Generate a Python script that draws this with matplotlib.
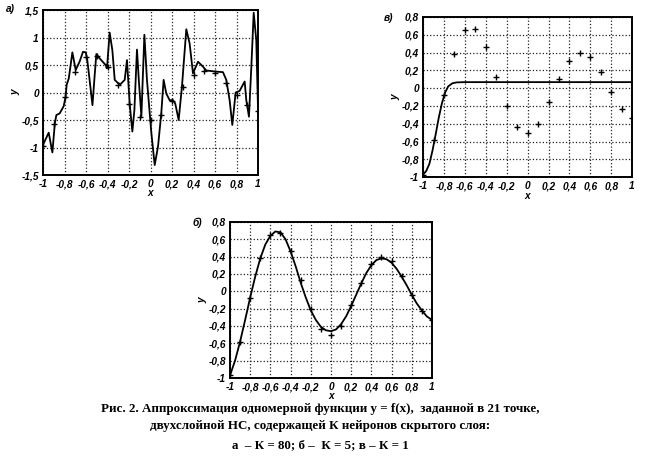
import matplotlib.pyplot as plt
import numpy as np

# 21 training points
x_pts = [-1.0, -0.9, -0.8, -0.7, -0.6, -0.5, -0.4, -0.3, -0.2, -0.1, 0.0,
         0.1, 0.2, 0.3, 0.4, 0.5, 0.6, 0.7, 0.8, 0.9, 1.0]
y_pts = [-0.97, -0.58, -0.08, 0.38, 0.65, 0.67, 0.46, 0.13, -0.20, -0.44, -0.50,
         -0.40, -0.16, 0.10, 0.31, 0.40, 0.35, 0.18, -0.04, -0.23, -0.33]

# a) K = 80 (read from picture)
xa = [-1.0, -0.947, -0.913, -0.89, -0.876, -0.845, -0.808, -0.79, -0.78, -0.76,
      -0.727, -0.696, -0.66, -0.628, -0.603, -0.59, -0.565, -0.54, -0.52, -0.504,
      -0.473, -0.417, -0.405, -0.38, -0.355, -0.333, -0.302, -0.28, -0.24, -0.219,
      -0.194, -0.169, -0.15, -0.126, -0.107, -0.085, -0.057, -0.033, 0.008, 0.039,
      0.07, 0.1, 0.122, 0.147, 0.178, 0.209, 0.23, 0.262, 0.293, 0.333,
      0.364, 0.395, 0.442, 0.488, 0.519, 0.612, 0.674, 0.705, 0.736, 0.761,
      0.792, 0.829, 0.876, 0.891, 0.916, 0.938, 0.96, 0.984, 1.0]
ya = [-0.95, -0.73, -1.09, -0.56, -0.41, -0.38, -0.25, -0.08, 0.14, 0.26,
      0.73, 0.41, 0.56, 0.74, 0.73, 0.62, 0.20, -0.23, 0.30, 0.70,
      0.62, 0.50, 0.44, 1.09, 0.77, 0.23, 0.17, 0.15, 0.23, 0.59,
      -0.20, -0.71, -0.32, 0.78, 0.17, -0.43, 1.05, 0.23, -0.74, -1.32,
      -0.98, -0.38, 0.23, -0.02, -0.14, -0.14, -0.20, -0.50, 0.12, 1.15,
      0.89, 0.35, 0.56, 0.47, 0.40, 0.38, 0.37, 0.23, -0.14, -0.59,
      0.0, 0.03, 0.20, -0.14, -0.44, 0.47, 1.45, 0.95, -0.29]

# б) K = 5
xb = [-1.00, -0.95, -0.90, -0.85, -0.80, -0.75, -0.70, -0.65, -0.60, -0.55,
      -0.50, -0.45, -0.40, -0.35, -0.30, -0.25, -0.20, -0.15, -0.10, -0.05,
      0.00, 0.05, 0.10, 0.15, 0.20, 0.25, 0.30, 0.35, 0.40, 0.45,
      0.50, 0.55, 0.60, 0.65, 0.70, 0.75, 0.80, 0.85, 0.90, 0.95, 1.00]
yb = [-0.97, -0.80, -0.58, -0.33, -0.07, 0.17, 0.38, 0.54, 0.64, 0.69,
      0.68, 0.60, 0.46, 0.29, 0.10, -0.07, -0.22, -0.33, -0.41, -0.45,
      -0.46, -0.44, -0.38, -0.29, -0.17, -0.04, 0.09, 0.21, 0.30, 0.36,
      0.38, 0.37, 0.33, 0.26, 0.17, 0.07, -0.04, -0.14, -0.22, -0.29, -0.33]

# в) K = 1
xc = [-1.0, -0.97, -0.94, -0.91, -0.88, -0.85, -0.82, -0.79, -0.76, -0.72, -0.68, -0.6, 1.0]
yc = [-0.97, -0.93, -0.85, -0.70, -0.52, -0.33, -0.17, -0.05, 0.02, 0.055, 0.065, 0.068, 0.068]

xticks = [-1, -0.8, -0.6, -0.4, -0.2, 0, 0.2, 0.4, 0.6, 0.8, 1]
xticklabels = ['-1', '-0,8', '-0,6', '-0,4', '-0,2', '0', '0,2', '0,4', '0,6', '0,8', '1']
yticks_a = [-1.5, -1, -0.5, 0, 0.5, 1, 1.5]
yticklabels_a = ['-1,5', '-1', '-0,5', '0', '0,5', '1', '1,5']
yticks_b = [-1, -0.8, -0.6, -0.4, -0.2, 0, 0.2, 0.4, 0.6, 0.8]
yticklabels_b = ['-1', '-0,8', '-0,6', '-0,4', '-0,2', '0', '0,2', '0,4', '0,6', '0,8']

caption = ["Рис. 2. Аппроксимация одномерной функции y = f(x),  заданной в 21 точке,",
           "двухслойной НС, содержащей К нейронов скрытого слоя:",
           "а  – К = 80; б –  К = 5; в – К = 1"]

tickfont = dict(family='Liberation Sans', style='italic', weight='bold', size=7.3)


def setup(ax, yticks, yticklabels, ylim, xlab_pad=0):
    ax.set_xlim(-1, 1)
    ax.set_ylim(*ylim)
    ax.set_xticks(xticks)
    ax.set_xticklabels(xticklabels, fontdict=tickfont)
    ax.set_yticks(yticks)
    ax.set_yticklabels(yticklabels, fontdict=tickfont)
    ax.tick_params(length=0, pad=3)
    ax.grid(True, color='#222222', linestyle=':', linewidth=0.9)
    for s in ax.spines.values():
        s.set_linewidth(1.4)
    ax.set_xlabel('x', fontdict=tickfont, labelpad=xlab_pad)
    ax.set_ylabel('y', fontdict=tickfont, labelpad=1)


fig = plt.figure(figsize=(6.45, 4.59), dpi=100)

ax1 = fig.add_axes([0.0667, 0.6187, 0.3333, 0.3595])
ax1.plot(xa, ya, color='black', lw=1.3)
ax1.plot(x_pts, y_pts, '+', color='black', ms=4.5, mew=1)
setup(ax1, yticks_a, yticklabels_a, (-1.5, 1.5), xlab_pad=-1)

ax3 = fig.add_axes([0.656, 0.614, 0.324, 0.349])
ax3.plot(xc, yc, color='black', lw=1.3)
ax3.plot(x_pts, y_pts, '+', color='black', ms=4.5, mew=1)
setup(ax3, yticks_b, yticklabels_b, (-1, 0.8), xlab_pad=0)

ax2 = fig.add_axes([0.3566, 0.1765, 0.313, 0.340])
ax2.plot(xb, yb, color='black', lw=1.3)
ax2.plot(x_pts, y_pts, '+', color='black', ms=4.5, mew=1)
setup(ax2, yticks_b, yticklabels_b, (-1, 0.8), xlab_pad=-0.5)

# panel letters
fig.text(6 / 645, 1 - 9 / 459, 'а)', va='center', fontdict=tickfont)
fig.text(384 / 645, 1 - 18 / 459, 'в)', va='center', fontdict=tickfont)
fig.text(193 / 645, 1 - 223 / 459, 'б)', va='center', fontdict=tickfont)

ys = [409, 426, 445]
for line, y in zip(caption, ys):
    fig.text(0.496, 1 - y / 459, line, ha='center', va='center',
             family='Liberation Serif', weight='bold', size=9.4)

fig.savefig('out.png', dpi=100)
